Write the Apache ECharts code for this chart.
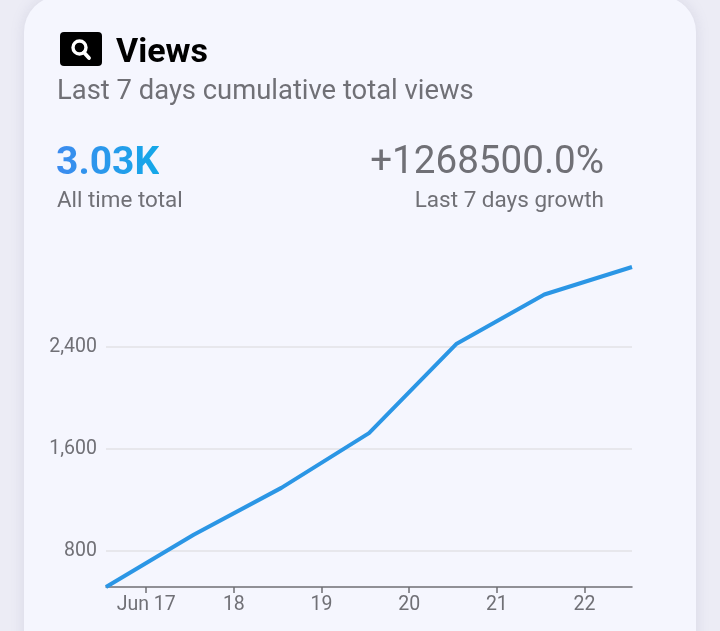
<!DOCTYPE html>
<html>
<head>
<meta charset="utf-8">
<script src="https://cdn.jsdelivr.net/npm/echarts@6/dist/echarts.min.js"></script>
<style>
  html, body { margin: 0; padding: 0; width: 720px; height: 631px; overflow: hidden; background: #ececf5; font-family: Roboto, "Noto Sans", sans-serif; }
  #card { position: absolute; left: 24px; top: -4px; width: 672px; height: 700px; background: #f5f6fe; border-radius: 36px; box-shadow: 0 0 14px rgba(120,120,160,0.18); }
  #chart { position: absolute; left: 0; top: 0; width: 720px; height: 631px; }
  .t { position: absolute; white-space: nowrap; line-height: 1; }
  #icon { position: absolute; left: 60px; top: 32px; width: 42px; height: 34px; }
</style>
</head>
<body>
<div id="card"></div>
<div id="chart"></div>
<svg id="icon" viewBox="0 0 42 34">
  <rect x="0" y="0" width="42" height="34" rx="4" fill="#000"/>
  <circle cx="19.5" cy="15.5" r="6.5" fill="none" stroke="#fff" stroke-width="3.4"/>
  <line x1="24" y1="20.5" x2="29" y2="26" stroke="#fff" stroke-width="3.8" stroke-linecap="round"/>
</svg>
<div class="t" id="title" style="left:116px; top:33px; font-size:34px; font-weight:700; color:#000;">Views</div>
<div class="t" id="sub" style="left:57px; top:77px; font-size:27.4px; color:#707076;">Last 7 days cumulative total views</div>
<div class="t" id="big" style="left:56px; top:142px; font-size:39px; font-weight:700; background:linear-gradient(90deg,#3d8bef,#14a8e8); -webkit-background-clip:text; background-clip:text; color:transparent;">3.03K</div>
<div class="t" id="bigl" style="left:57px; top:188px; font-size:22.4px; color:#707076;">All time total</div>
<div class="t" id="gr" style="right:116px; top:141px; font-size:38.6px; color:#707076;">+1268500.0%</div>
<div class="t" id="grl" style="right:116px; top:188px; font-size:22.5px; color:#707076;">Last 7 days growth</div>
<script>
// Data
var dates = ['2024-06-16 13:00', '2024-06-17 13:00', '2024-06-18 13:00', '2024-06-19 13:00', '2024-06-20 13:00', '2024-06-21 13:00', '2024-06-22 13:00'];
var views = [515, 926, 1294, 1724, 2427, 2814, 3030];
var yTickValues = [800, 1600, 2400];
var xTickDates = ['2024-06-17 00:00', '2024-06-18 00:00', '2024-06-19 00:00', '2024-06-20 00:00', '2024-06-21 00:00', '2024-06-22 00:00'];
var xTickLabels = ['Jun 17', '18', '19', '20', '21', '22'];

function ts(s) { var p = s.split(/[- :]/); return Date.UTC(+p[0], +p[1] - 1, +p[2], +p[3], +p[4]); }
var xTicks = xTickDates.map(ts);
var seriesData = dates.map(function (d, i) { return [ts(d), views[i]]; });

var chart = echarts.init(document.getElementById('chart'), null, { renderer: 'canvas' });
chart.setOption({
  animation: false,
  backgroundColor: 'transparent',
  grid: { left: 106, right: 88, top: 267, bottom: 44, containLabel: false },
  xAxis: {
    type: 'value',
    min: ts(dates[0]),
    max: ts(dates[dates.length - 1]),
    axisLine: { show: true, onZero: false, lineStyle: { color: '#6f6f74', width: 1.5 } },
    axisTick: { show: true, length: 6, customValues: xTicks, lineStyle: { color: '#6f6f74', width: 1.5 } },
    splitLine: { show: false },
    axisLabel: {
      customValues: xTicks,
      color: '#707076',
      fontSize: 19.5,
      fontFamily: 'Roboto',
      margin: 8,
      formatter: function (v) {
        var idx = xTicks.indexOf(+v);
        return idx >= 0 ? xTickLabels[idx] : '';
      }
    }
  },
  yAxis: {
    type: 'value',
    min: 'dataMin',
    max: 'dataMax',
    axisLine: { show: false },
    axisTick: { show: false, customValues: yTickValues },
    splitLine: { show: true, lineStyle: { color: '#e2e2e6', width: 1.5 } },
    axisLabel: {
      customValues: yTickValues,
      color: '#707076',
      fontSize: 19.5,
      fontFamily: 'Roboto',
      margin: 9,
      formatter: function (v) { return v.toLocaleString('en-US'); }
    }
  },
  series: [{
    type: 'line',
    data: seriesData,
    showSymbol: false,
    symbol: 'none',
    lineStyle: { color: '#2b96e5', width: 4 },
    clip: false
  }]
});
</script>
</body>
</html>
